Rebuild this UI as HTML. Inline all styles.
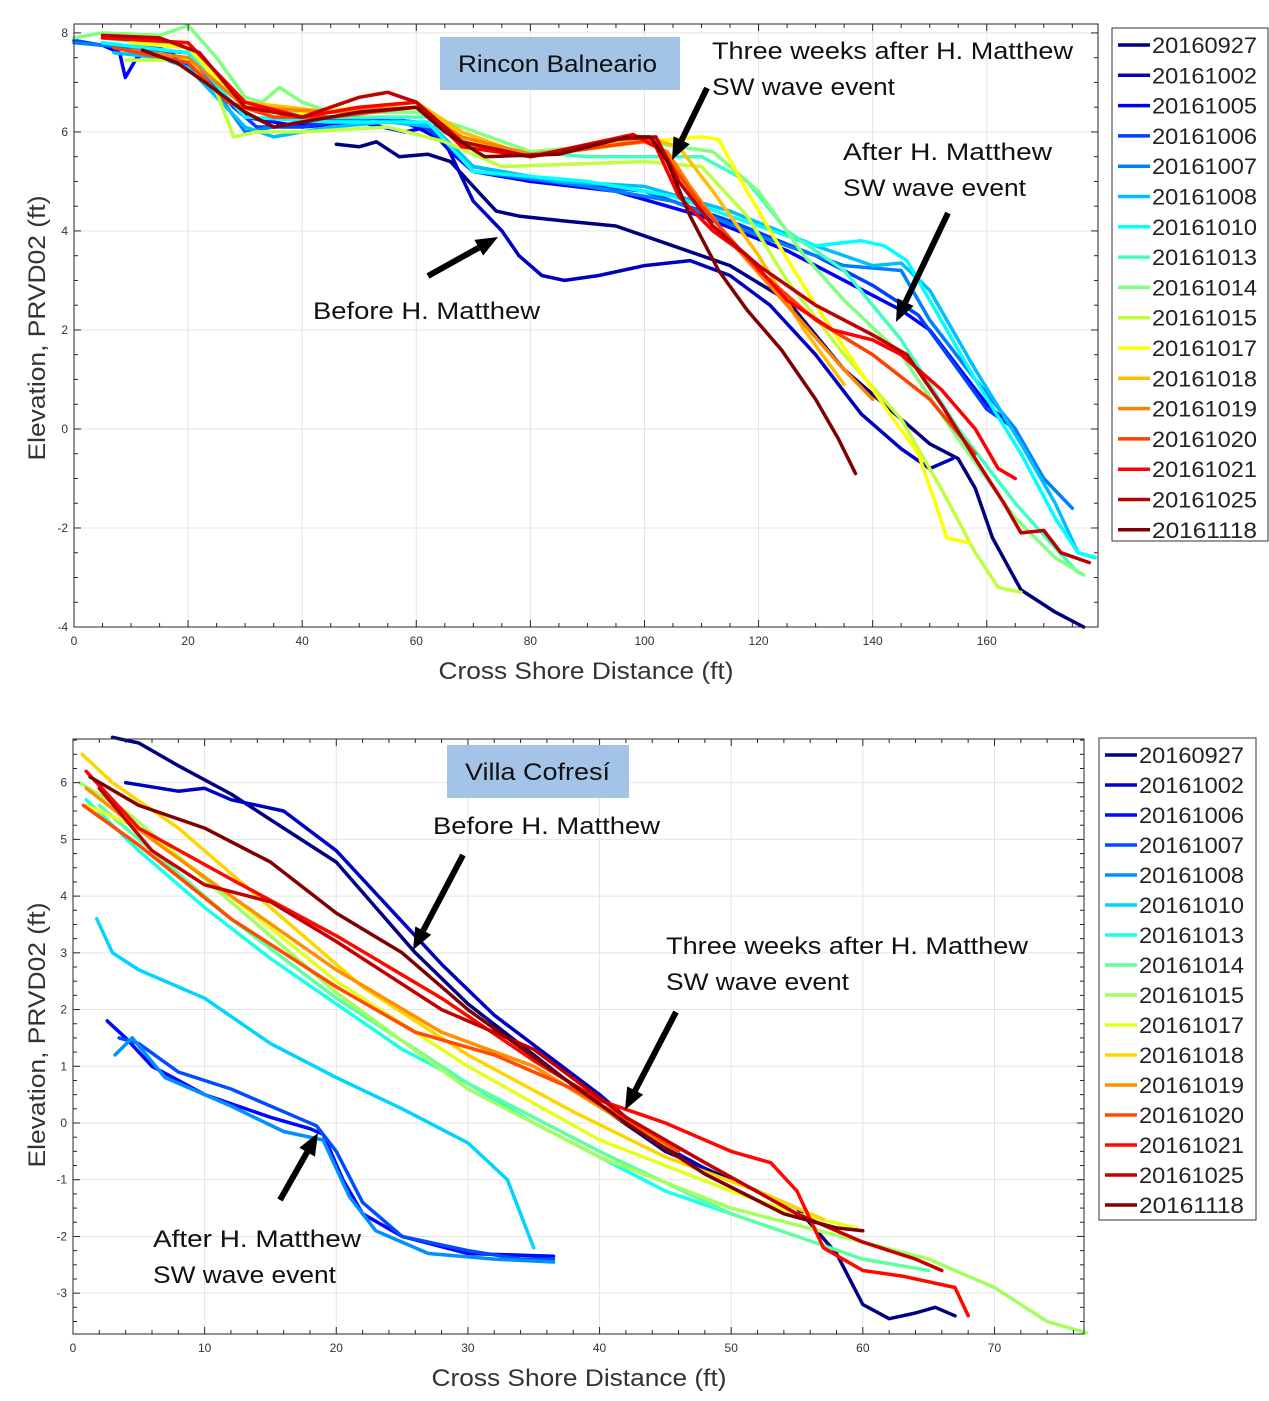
<!DOCTYPE html>
<html><head><meta charset="utf-8">
<style>
body{margin:0;background:#fff;}
svg{display:block;font-family:"Liberation Sans",Arial,sans-serif;}
</style></head>
<body>
<svg id="chart" width="1269" height="1401" viewBox="0 0 1269 1401" xmlns="http://www.w3.org/2000/svg"></svg>
<script>
// ---------- data: top chart (Rincon Balneario) ----------
const topDates = ["20160927","20161002","20161005","20161006","20161007","20161008","20161010","20161013","20161014","20161015","20161017","20161018","20161019","20161020","20161021","20161025","20161118"];
const topXTicks = [0,20,40,60,80,100,120,140,160];
const topYTicks = [-4,-2,0,2,4,6,8];
const topSeries = [
[46,5.75,50,5.7,53,5.8,57,5.5,62,5.55,66,5.4,70,4.9,74,4.4,78,4.3,86,4.2,95,4.1,105,3.7,115,3.3,125,2.6,135,1.2,145,0.2,150,-0.3,155,-0.6,158,-1.2,161,-2.2,166,-3.25,172,-3.7,177,-4],
[5,7.8,10,7.7,20,7.6,28,6.5,35,6.1,45,6.2,55,6.3,60,6.1,65,5.8,70,4.6,75,4.0,78,3.5,82,3.1,86,3.0,92,3.1,100,3.3,108,3.4,115,3.1,122,2.5,130,1.5,138,0.3,145,-0.4,150,-0.8,154,-0.6],
[1,7.8,5,7.75,8,7.6,9,7.1,11,7.5,15,7.7,20,7.4,25,6.9,30,6.3,40,6.1,50,6.2,58,6.0,62,6.1,66,5.6,70,5.2,80,5.0,95,4.8,110,4.3,125,3.6,135,3.0,145,2.4,150,2.0,160,0.5,165,0.0],
[0,7.85,5,7.75,15,7.7,22,7.2,28,6.5,32,6.1,40,6.1,50,6.3,60,6.2,64,5.9,70,5.3,85,5.0,100,4.8,115,4.2,130,3.5,140,2.9,148,2.3,155,1.2,160,0.4,165,0.0],
[0,7.8,10,7.7,20,7.6,25,6.8,30,6.0,40,6.2,55,6.3,63,6.1,70,5.2,90,4.9,105,4.6,120,3.9,135,3.3,145,3.2,150,2.2,158,1.0,165,0.0,170,-1.0,175,-1.6],
[7,7.6,15,7.5,20,7.3,30,6.1,35,5.9,45,6.1,55,6.2,63,6.1,70,5.3,85,5.0,100,4.9,115,4.4,130,3.7,140,3.3,145,3.35,150,2.8,158,1.2,166,-0.3,172,-1.5,176,-2.5,179,-2.6],
[5,7.8,20,7.6,30,6.3,45,6.2,62,6.2,70,5.2,90,5.0,105,4.7,120,4.1,130,3.7,138,3.8,142,3.7,146,3.4,150,2.6,158,1.0,166,-0.5,172,-1.8,176,-2.5,179,-2.6],
[5,7.9,20,7.7,30,6.5,45,6.3,62,6.3,70,5.7,90,5.5,110,5.5,118,5.0,125,4.0,135,3.2,145,1.8,155,0.0,165,-1.5,172,-2.4,176,-2.9],
[0,7.9,5,8.0,15,7.95,20,8.15,25,7.5,30,6.7,33,6.6,36,6.9,40,6.6,45,6.4,60,6.4,68,6.1,80,5.6,100,5.8,112,5.6,120,4.8,128,3.5,135,2.6,145,1.5,155,-0.2,165,-1.8,172,-2.6,177,-2.95],
[9,7.45,20,7.45,25,6.8,28,5.9,32,6.0,40,6.0,55,6.1,65,5.8,75,5.3,100,5.4,110,5.3,118,4.3,125,3.0,135,1.5,145,0.2,152,-1.2,158,-2.5,162,-3.2,166,-3.3],
[10,7.8,20,7.7,28,6.7,35,6.3,50,6.5,60,6.6,68,5.9,80,5.5,100,5.8,110,5.9,113,5.85,117,5.0,122,4.0,130,2.5,137,1.3,143,0.3,148,-0.5,151,-1.5,153,-2.2,157,-2.3],
[5,7.9,20,7.8,30,6.6,45,6.4,60,6.6,68,6.0,80,5.5,100,5.9,106,5.7,112,4.8,120,3.5,128,2.0,135,0.9],
[10,7.65,20,7.5,30,6.5,45,6.4,60,6.5,68,5.9,80,5.55,100,5.8,104,5.6,108,4.9,115,3.8,125,2.5,135,1.2,140,0.6],
[7,7.7,20,7.4,27,6.6,35,6.3,45,6.3,60,6.5,68,5.8,80,5.5,102,5.85,105,5.3,110,4.5,120,3.2,130,2.2,140,1.5,150,0.6,158,-0.5],
[5,7.9,20,7.8,30,6.6,40,6.3,50,6.5,60,6.6,68,5.7,80,5.5,98,5.95,102,5.7,106,4.7,112,4.0,118,3.5,125,2.6,133,2.0,140,1.8,145,1.5,152,0.8,158,0.0,162,-0.8,165,-1.0],
[5,7.95,15,7.9,22,7.6,30,6.5,40,6.3,50,6.7,55,6.8,60,6.6,68,5.8,80,5.5,95,5.85,102,5.9,106,5.0,112,4.1,120,3.3,130,2.5,140,1.9,146,1.5,152,0.5,158,-0.6,163,-1.5,166,-2.1,170,-2.05,173,-2.5,178,-2.7],
[12,7.65,18,7.4,23,7.0,30,6.4,35,6.1,40,6.2,50,6.4,60,6.5,65,6.0,72,5.5,85,5.55,97,5.9,101,5.9,104,5.4,108,4.3,113,3.2,118,2.4,124,1.6,130,0.6,134,-0.2,137,-0.9]
];
// ---------- data: bottom chart (Villa Cofresí) ----------
const botDates = ["20160927","20161002","20161006","20161007","20161008","20161010","20161013","20161014","20161015","20161017","20161018","20161019","20161020","20161021","20161025","20161118"];
const botXTicks = [0,10,20,30,40,50,60,70];
const botYTicks = [-3,-2,-1,0,1,2,3,4,5,6];
const botSeries = [
[3,6.8,5,6.7,8,6.3,12,5.8,16,5.2,20,4.6,23,3.8,26,3.0,30,2.1,35,1.2,40,0.3,45,-0.5,50,-1.0,55,-1.5,58,-2.3,60,-3.2,62,-3.45,64,-3.35,65.5,-3.25,67,-3.4],
[4,6.0,8,5.85,10,5.9,12,5.7,16,5.5,20,4.8,24,3.8,28,2.8,32,1.9,36,1.2,40,0.5,44,-0.3,48,-0.8],
[2.6,1.8,4,1.5,6,1.0,10,0.5,15,0.1,18,-0.1,19,-0.2,20.5,-1.0,22,-1.6,25,-2.0,30,-2.3,36.5,-2.35],
[3.5,1.5,5,1.4,8,0.9,12,0.6,16,0.2,18.5,-0.05,20,-0.5,22,-1.4,25,-2.0,30,-2.25,34,-2.4,36.5,-2.4],
[3.2,1.2,4.5,1.5,7,0.8,12,0.3,16,-0.15,19,-0.3,21,-1.3,23,-1.9,27,-2.3,32,-2.4,36.5,-2.45],
[1.8,3.6,3,3.0,5,2.7,10,2.2,15,1.4,20,0.8,25,0.25,30,-0.35,33,-1.0,35,-2.2],
[1,5.7,5,4.8,10,3.8,15,2.9,20,2.1,25,1.3,30,0.7,35,0.0,40,-0.6,45,-1.2,50,-1.6],
[2,5.6,6,4.8,12,3.6,20,2.2,30,0.7,40,-0.5,50,-1.6,55,-2.0,60,-2.4,65,-2.6],
[0.5,6.0,4,5.5,10,4.3,20,2.3,30,0.6,40,-0.6,50,-1.5,60,-2.1,65,-2.4,70,-2.9,74,-3.5,77,-3.7],
[1,5.6,5,5.2,12,4.0,20,2.5,30,1.0,40,-0.3,50,-1.2,55,-1.6,59.5,-1.85],
[0.7,6.5,3,6.0,8,5.2,15,3.8,22,2.4,30,1.2,38,0.2,45,-0.6,52,-1.2,57,-1.7],
[1,5.9,6,5.0,12,4.0,20,2.7,28,1.6,35,1.0,42,0.0,46,-0.5],
[0.8,5.6,5,4.9,12,3.6,20,2.4,26,1.6,32,1.2,38,0.6,44,-0.2,46,-0.5],
[1,6.2,5,5.2,12,4.3,20,3.3,28,2.2,35,1.1,40,0.4,45,0.0,50,-0.5,53,-0.7,55,-1.2,57,-2.2,60,-2.6,63,-2.7,67,-2.9,68,-3.4],
[2,5.9,6,4.8,10,4.2,15,3.9,20,3.2,28,2.0,35,1.3,42,0.1,48,-0.7,55,-1.6,60,-2.1,64,-2.4,66,-2.6],
[1.3,6.1,5,5.6,10,5.2,15,4.6,20,3.7,25,3.0,30,2.0,36,1.0,42,0.0,48,-0.9,54,-1.6,58,-1.85,60,-1.9]
];

const NS="http://www.w3.org/2000/svg";
const svg=document.getElementById('chart');
function mk(tag,attrs,parent){const e=document.createElementNS(NS,tag);for(const k in attrs)e.setAttribute(k,attrs[k]);(parent||svg).appendChild(e);return e;}
function jet(t){const c=v=>Math.round(255*Math.max(0,Math.min(1,v)));return `rgb(${c(1.5-Math.abs(4*t-3))},${c(1.5-Math.abs(4*t-2))},${c(1.5-Math.abs(4*t-1))})`;}

function drawChart(cfg){
  const {L,T,R,B,xmin,xmax,ymin,ymax,xticks,yticks,xminor,yminor,series,dates,prefix}=cfg;
  const sx=v=>L+(v-xmin)/(xmax-xmin)*(R-L);
  const sy=v=>B-(v-ymin)/(ymax-ymin)*(B-T);
  const g=mk('g',{});
  
  
  xticks.forEach(t=>{const l=mk('line',{x1:sx(t),x2:sx(t),y1:T,y2:B,stroke:'#e4e4e4','stroke-width':1},g);});
  yticks.forEach(t=>{const l=mk('line',{x1:L,x2:R,y1:sy(t),y2:sy(t),stroke:'#e4e4e4','stroke-width':1},g);});
  series.forEach((s,i)=>{
    let d='';for(let k=0;k<s.length;k+=2)d+=(k?'L':'M')+sx(s[k]).toFixed(1)+','+sy(s[k+1]).toFixed(1);
    const p=mk('path',{d:d,fill:'none',stroke:jet(i/(series.length-1)),'stroke-width':3.5,'stroke-linejoin':'round','stroke-linecap':'round'},g);
    
    
  });
  const fr=mk('rect',{x:L,y:T,width:R-L,height:B-T,fill:'none',stroke:'#262626','stroke-width':1},g);
  
  
  for(let v=xmin;v<=xmax+1e-9;v+=xminor){const x=sx(v);const major=xticks.some(t=>Math.abs(t-v)<1e-6);const len=major?7:4;
    mk('line',{x1:x,x2:x,y1:B,y2:B-len,stroke:'#262626'},g);mk('line',{x1:x,x2:x,y1:T,y2:T+len,stroke:'#262626'},g);}
  for(let v=Math.ceil(ymin/yminor)*yminor;v<=ymax+1e-9;v+=yminor){const y=sy(v);const major=yticks.some(t=>Math.abs(t-v)<1e-6);const len=major?7:4;
    mk('line',{x1:L,x2:L+len,y1:y,y2:y,stroke:'#262626'},g);mk('line',{x1:R,x2:R-len,y1:y,y2:y,stroke:'#262626'},g);}
  xticks.forEach(t=>{const tx=mk('text',{x:sx(t),y:B+18,'font-size':12,fill:'#333','text-anchor':'middle'},g);tx.textContent=t;});
  yticks.forEach(t=>{const tx=mk('text',{x:L-6,y:sy(t)+4,'font-size':12,fill:'#333','text-anchor':'end'},g);tx.textContent=t;});
  const lg=mk('g',{});
  
  
  mk('rect',{x:cfg.legX,y:cfg.legY,width:cfg.legW,height:cfg.legH,fill:'#fff',stroke:'#333','stroke-width':1},lg);
  dates.forEach((dt,i)=>{
    const y=cfg.legY+17+i*cfg.legStep;
    const e=mk('g',{},lg);
    
    
    mk('line',{x1:cfg.legX+6,x2:cfg.legX+38,y1:y,y2:y,stroke:jet(i/(dates.length-1)),'stroke-width':3.5},e);
    const tx=mk('text',{x:cfg.legX+40,y:y+8,'font-size':22,fill:'#222',textLength:105,lengthAdjust:'spacingAndGlyphs'},e);tx.textContent=dt;
  });
}

drawChart({prefix:'top',L:74,T:24,R:1098,B:627,xmin:0,xmax:179.5,ymin:-4,ymax:8.18,xticks:topXTicks,yticks:topYTicks,xminor:5,yminor:0.5,series:topSeries,dates:topDates,legX:1112,legY:28,legW:156,legH:513,legStep:30.3});
drawChart({prefix:'bottom',L:73,T:739,R:1084,B:1334,xmin:0,xmax:76.8,ymin:-3.72,ymax:6.77,xticks:botXTicks,yticks:botYTicks,xminor:2,yminor:0.25,series:botSeries,dates:botDates,legX:1099,legY:738,legW:157,legH:482,legStep:30});

function txt(x,y,s,size,name,w,extra){const a=Object.assign({x:x,y:y,'font-size':size,fill:'#111'},extra||{});if(w){a.textLength=w;a.lengthAdjust='spacingAndGlyphs';}const t=mk('text',a);t.textContent=s;return t;}
function arrow(x1,y1,x2,y2,name){
  const g=mk('g',{});
  const a=Math.atan2(y2-y1,x2-x1),h=22,w=9;
  const bx=x2-h*Math.cos(a),by=y2-h*Math.sin(a);
  mk('line',{x1:x1,y1:y1,x2:bx,y2:by,stroke:'#000','stroke-width':6},g);
  mk('polygon',{points:`${x2},${y2} ${bx+w*Math.sin(a)},${by-w*Math.cos(a)} ${bx-w*Math.sin(a)},${by+w*Math.cos(a)}`,fill:'#000'},g);
}
txt(586,679,'Cross Shore Distance (ft)',24,'top-x-axis-title',295,{'text-anchor':'middle',fill:'#333'});
txt(0,0,'Elevation, PRVD02 (ft)',24,'top-y-axis-title',265,{'text-anchor':'middle',fill:'#333',transform:'translate(45,328) rotate(-90)'});
txt(579,1386,'Cross Shore Distance (ft)',24,'bottom-x-axis-title',295,{'text-anchor':'middle',fill:'#333'});
txt(0,0,'Elevation, PRVD02 (ft)',24,'bottom-y-axis-title',265,{'text-anchor':'middle',fill:'#333',transform:'translate(45,1035) rotate(-90)'});
const b1=mk('rect',{x:440,y:37,width:240,height:53,fill:'#a3c4e6'});
txt(458,72,'Rincon Balneario',24,'rincon-title',199);
const b2=mk('rect',{x:447,y:745,width:182,height:53,fill:'#a3c4e6'});
txt(465,780,'Villa Cofresí',24,'cofresi-title',145);
txt(712,59,'Three weeks after H. Matthew',24,'top-annot-three-weeks',361);
txt(712,95,'SW wave event',24,'top-annot-three-weeks-2',183);
arrow(707,88,672,160,'top-arrow-three-weeks');
txt(843,160,'After H. Matthew',24,'top-annot-after',209);
txt(843,196,'SW wave event',24,'top-annot-after-2',183);
arrow(948,213,896,322,'top-arrow-after');
txt(313,319,'Before H. Matthew',24,'top-annot-before',227);
arrow(428,276,498,237,'top-arrow-before');
txt(433,834,'Before H. Matthew',24,'bottom-annot-before',227);
arrow(463,855,413,950,'bottom-arrow-before');
txt(666,954,'Three weeks after H. Matthew',24,'bottom-annot-three-weeks',362);
txt(666,990,'SW wave event',24,'bottom-annot-three-weeks-2',183);
arrow(676,1012,625,1110,'bottom-arrow-three-weeks');
txt(153,1247,'After H. Matthew',24,'bottom-annot-after',208);
txt(153,1283,'SW wave event',24,'bottom-annot-after-2',183);
arrow(280,1200,318,1133,'bottom-arrow-after');
</script>
</body></html>
